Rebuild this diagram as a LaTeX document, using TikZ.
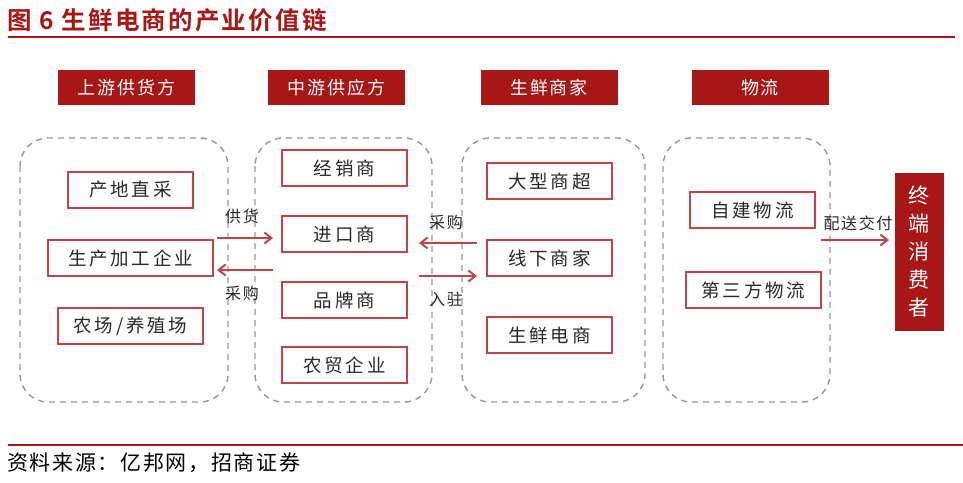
\documentclass[tikz,border=0pt]{standalone}
\usepackage{fontspec}
\setmainfont{Noto Sans CJK SC}
\newfontfamily\cjkbold{Noto Sans CJK SC Bold}
\usetikzlibrary{arrows.meta}
\definecolor{dred}{RGB}{168,22,22}
\definecolor{bred}{RGB}{190,70,70}
\definecolor{dgray}{RGB}{150,150,150}
\definecolor{txt}{RGB}{40,40,40}
\tikzset{
  hdr/.style={fill=dred, text=white, minimum width=137pt, minimum height=35pt, inner sep=0pt,
    font=\fontsize{18}{18}\selectfont\addfontfeature{LetterSpace=10}},
  ibox/.style={draw=bred, line width=1.3pt, text=txt, minimum height=36pt, inner sep=0pt,
    font=\fontsize{18.5}{18.5}\selectfont\addfontfeature{LetterSpace=15}},
  grp/.style={draw=dgray, line width=1.4pt, dash pattern=on 6pt off 5pt, rounded corners=28pt},
  arr/.style={draw=bred, line width=1.3pt, -{Straight Barb[length=7pt,width=11pt,line width=2pt]}},
  lbl/.style={text=txt, inner sep=0pt, font=\fontsize{16}{16}\selectfont\addfontfeature{LetterSpace=10}}
}
\begin{document}
\begin{tikzpicture}[x=1pt,y=-1pt]
\useasboundingbox (0,0) rectangle (963,482);
% title
\node[anchor=west, text=dred, inner sep=0pt, font=\cjkbold\fontsize{24.5}{24.5}\selectfont\addfontfeature{LetterSpace=9}] (title) at (7,20) {图 6 生鲜电商的产业价值链};
\draw[dred, line width=2pt] (8,37) -- (955,37);
\draw[dred, line width=2pt] (8,445) -- (963,445);
\node[anchor=west, text=black, inner sep=0pt, font=\fontsize{21}{21}\selectfont\addfontfeature{LetterSpace=8}] (src) at (7,463) {资料来源：亿邦网，招商证券};
% headers
\node[hdr] (h1) at (126.5,87.5) {上游供货方};
\node[hdr] (h2) at (336.5,87.5) {中游供应方};
\node[hdr] (h3) at (549,87.5) {生鲜商家};
\node[hdr] (h4) at (760,87.5) {物流};
% groups
\draw[grp] (20,138) rectangle (228,402);
\draw[grp] (255,138) rectangle (432,402);
\draw[grp] (462,138) rectangle (645,402);
\draw[grp] (663,138) rectangle (830,402);
% group 1
\node[ibox, minimum width=125pt] (b11) at (130.5,190) {产地直采};
\node[ibox, minimum width=165pt] (b12) at (130.5,258) {生产加工企业};
\node[ibox, minimum width=145pt] (b13) at (130.5,326) {农场/养殖场};
% group 2
\node[ibox, minimum width=125pt] (b21) at (344.5,168) {经销商};
\node[ibox, minimum width=125pt] (b22) at (344.5,234) {进口商};
\node[ibox, minimum width=125pt] (b23) at (344.5,300) {品牌商};
\node[ibox, minimum width=125pt] (b24) at (344.5,365) {农贸企业};
% group 3
\node[ibox, minimum width=125pt] (b31) at (549.5,181) {大型商超};
\node[ibox, minimum width=125pt] (b32) at (549.5,258) {线下商家};
\node[ibox, minimum width=125pt] (b33) at (549.5,335) {生鲜电商};
% group 4
\node[ibox, minimum width=125pt] (b41) at (752.5,210) {自建物流};
\node[ibox, minimum width=135pt] (b42) at (753.5,290) {第三方物流};
% consumer
\node[fill=dred, text=white, minimum width=49pt, minimum height=158pt, inner sep=0pt, align=center,
  font=\fontsize{21}{28}\selectfont] (cons) at (919,252) {终\\端\\消\\费\\者};
% arrows
\coordinate (a1s) at (217,238); \coordinate (a1e) at (273,238);
\coordinate (a2s) at (273,270); \coordinate (a2e) at (217,270);
\coordinate (a3s) at (477,243); \coordinate (a3e) at (419,243);
\coordinate (a4s) at (419,276); \coordinate (a4e) at (477,276);
\coordinate (a5s) at (821,240); \coordinate (a5e) at (889,240);
\draw[arr] (a1s) -- (a1e);
\draw[arr] (a2s) -- (a2e);
\draw[arr] (a3s) -- (a3e);
\draw[arr] (a4s) -- (a4e);
\draw[arr] (a5s) -- (a5e);
\node[lbl] (l1) at (242,216) {供货};
\node[lbl] (l2) at (242,293) {采购};
\node[lbl] (l3) at (446,222) {采购};
\node[lbl] (l4) at (446,299) {入驻};
\node[lbl] (l5) at (858,223) {配送交付};
\end{tikzpicture}
\end{document}
